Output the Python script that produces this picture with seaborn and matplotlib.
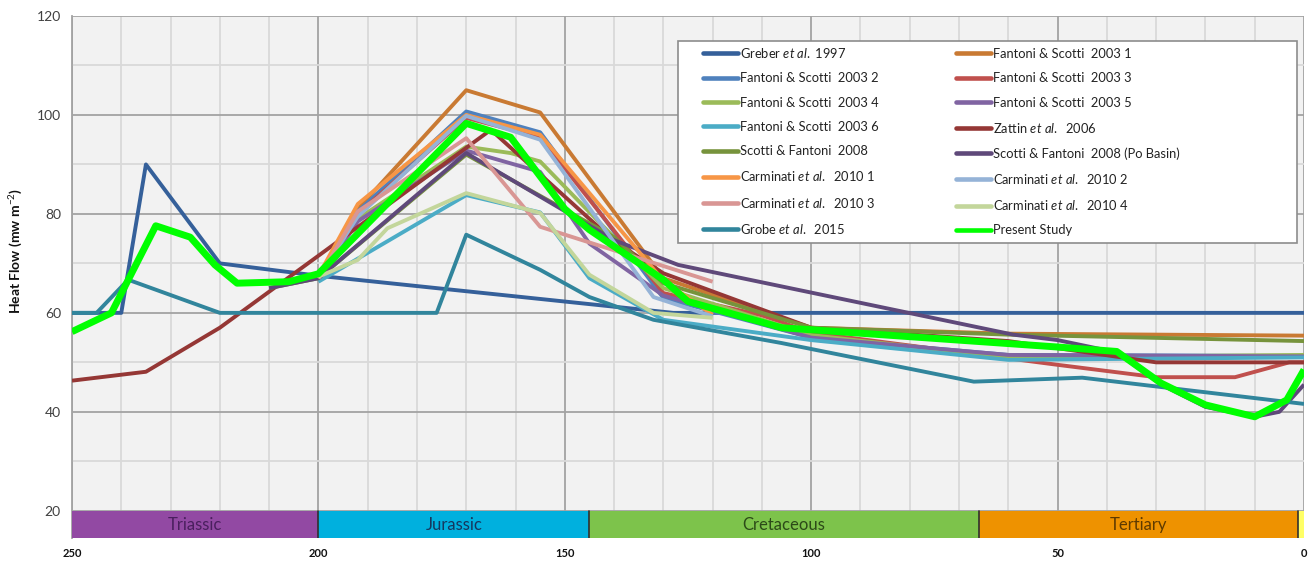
import matplotlib
matplotlib.use("Agg")
import matplotlib.pyplot as plt
from matplotlib.lines import Line2D
from matplotlib.patches import Rectangle
import seaborn as sns

sns.set_style("white")
plt.rcParams["font.family"] = ["Lato", "DejaVu Sans"]
plt.rcParams["mathtext.fontset"] = "custom"
plt.rcParams["mathtext.rm"] = "Lato"
plt.rcParams["mathtext.it"] = "Lato:italic"
plt.rcParams["mathtext.bf"] = "Lato:bold"

# ---------------- data ----------------
greber_t = [250, 240, 235, 220, 200, 128, 0]
greber_v = [60, 60, 90, 70, 67.5, 60, 60]

fs1_t = [200, 192, 170, 155, 130, 100, 60, 0]
fs1_v = [67, 81, 105, 100.5, 67, 57, 55.8, 55.4]

fs2_t = [200, 192, 170, 155, 130, 100, 60, 0]
fs2_v = [67, 80.5, 100.7, 96.5, 63, 55, 51.5, 51.3]

fs3_t = [200, 192, 170, 155, 130, 110, 100, 50, 30, 14, 3, 0]
fs3_v = [67, 80, 99.4, 95.5, 64, 59.5, 56, 49.5, 47, 47, 50, 50]

fs4_t = [200, 192, 170, 161, 155, 130, 100, 60, 0]
fs4_v = [67, 79, 93.6, 92.3, 90.6, 65, 55.5, 51, 51.5]

fs5_t = [200, 192, 170, 155, 145, 130, 100, 60, 0]
fs5_v = [66.5, 78.5, 92.8, 88.5, 74, 63.5, 55, 51.5, 51.2]

fs6_t = [200, 170, 155, 145, 130, 100, 60, 0]
fs6_v = [66.3, 83.8, 80.3, 67, 58.6, 54.5, 50.5, 51]

zattin_t = [250, 235, 220, 165, 140, 130, 100, 60, 30, 0]
zattin_v = [46.3, 48.1, 57, 97, 74.5, 68, 57, 54.3, 50, 50]

scotti_t = [210, 200, 170, 140, 130, 100, 60, 0]
scotti_v = [65, 67, 92, 75.3, 66, 57, 55.6, 54.3]

po_t = [210, 200, 170, 140, 127, 59, 50, 38, 29, 20, 10, 5, 0]
po_v = [65, 67, 92.3, 74.7, 69.7, 55.6, 54.5, 52, 45.5, 41, 39, 40, 45.5]

carm1_t = [200, 192, 170, 155, 130, 120]
carm1_v = [67.5, 82, 100, 96, 66.5, 59.6]

carm2_t = [200, 192, 170, 155, 132, 120]
carm2_v = [67, 79.5, 99.8, 95, 63.2, 59.3]

carm3_t = [200, 192, 170, 155, 120]
carm3_v = [67, 80.5, 95.3, 77.4, 66.3]

carm4_t = [200, 192, 186, 170, 155, 145, 132, 120]
carm4_v = [67.3, 70.7, 77.1, 84.2, 80.2, 67.7, 60, 59]

grobe_t = [250, 245, 238.6, 220, 176, 170, 155, 145, 132, 106, 67, 45, 0]
grobe_v = [60, 60, 66.7, 60, 60, 75.8, 68.7, 63.2, 58.6, 53.9, 46.1, 46.9, 41.6]

present_t = [250, 242, 233, 226, 221, 216.5, 206, 200, 170, 161, 150, 145,
             137, 130, 125, 106, 50, 38, 29, 20, 10, 3.5, 0]
present_v = [56.2, 60, 77.6, 75.3, 69.7, 66, 66.3, 67.9, 98.3, 95.5, 81, 76.8,
             71.4, 66.7, 62.3, 57, 53.1, 52.2, 45.8, 41.4, 39, 42.4, 48.5]

series_names = [
    r"Greber $\mathit{et\ al.}$ 1997",
    "Fantoni & Scotti  2003 1",
    "Fantoni & Scotti  2003 2",
    "Fantoni & Scotti  2003 3",
    "Fantoni & Scotti  2003 4",
    "Fantoni & Scotti  2003 5",
    "Fantoni & Scotti  2003 6",
    r"Zattin $\mathit{et\ al.}$  2006",
    "Scotti & Fantoni  2008",
    "Scotti & Fantoni  2008 (Po Basin)",
    r"Carminati $\mathit{et\ al.}$  2010 1",
    r"Carminati $\mathit{et\ al.}$  2010 2",
    r"Carminati $\mathit{et\ al.}$  2010 3",
    r"Carminati $\mathit{et\ al.}$  2010 4",
    r"Grobe $\mathit{et\ al.}$  2015",
    "Present Study",
]
series_t = [greber_t, fs1_t, fs2_t, fs3_t, fs4_t, fs5_t, fs6_t, zattin_t,
            scotti_t, po_t, carm1_t, carm2_t, carm3_t, carm4_t, grobe_t, present_t]
series_v = [greber_v, fs1_v, fs2_v, fs3_v, fs4_v, fs5_v, fs6_v, zattin_v,
            scotti_v, po_v, carm1_v, carm2_v, carm3_v, carm4_v, grobe_v, present_v]
series_colors = ["#35609A", "#C97A33", "#4F81BD", "#C0504D", "#9BBB59",
                 "#8064A2", "#4BACC6", "#953735", "#77933C", "#5F497A",
                 "#F79646", "#95B3D7", "#D99694", "#C3D69B", "#31859C", "#00FF00"]

period_names = ["Triassic", "Jurassic", "Cretaceous", "Tertiary", ""]
period_start = [250, 200, 145, 66, 1.3]
period_end = [200, 145, 66, 1.3, 0]
period_colors = ["#9249A3", "#00B0DE", "#7DC34B", "#EE9200", "#FFFF66"]
period_text_colors = ["#4A1F5E", "#16375E", "#2C4A18", "#5E3A00", "#000000"]

# ---------------- figure ----------------
W, H = 1312, 565
fig = plt.figure(figsize=(W / 100, H / 100), dpi=100)
ax = fig.add_axes([72 / W, 1 - 538 / H, 1232 / W, 522 / H])
ax.set_facecolor("#F2F2F2")
ax.set_xlim(250, 0)
ax.set_ylim(14.5, 120)

ax.set_xticks(range(0, 251, 50))
ax.set_xticks(range(0, 251, 10), minor=True)
ax.set_yticks(range(20, 121, 20))
ax.set_yticks(range(30, 120, 20), minor=True)
ax.grid(which="major", color="#A3A3A3", lw=1.3)
ax.grid(which="minor", color="#D9D9D9", lw=1.3)
ax.set_axisbelow(True)

for s in ["top", "right", "bottom"]:
    ax.spines[s].set_visible(False)
ax.spines["left"].set_color("#A3A3A3")
ax.spines["left"].set_linewidth(1.3)

ax.tick_params(axis="y", which="major", length=5, color="#A3A3A3",
               labelsize=10, labelcolor="#404040", pad=3)
ax.tick_params(axis="x", which="major", length=5, color="#A3A3A3",
               labelsize=8, labelcolor="#111111", pad=2)
ax.tick_params(which="minor", length=0)
for lab in ax.get_xticklabels():
    lab.set_fontweight("bold")

# period bar
for name, s, e, c, tc in zip(period_names, period_start, period_end,
                             period_colors, period_text_colors):
    ax.broken_barh([(e, s - e)], (14.5, 5.5), facecolors=c,
                   edgecolor="none", zorder=3)
    if name:
        ax.text((s + e) / 2, 17.2, name, ha="center", va="center",
                fontsize=12, color=tc, zorder=4)
for b in period_start[1:]:
    ax.plot([b, b], [14.5, 20], color="#303030", lw=1.2, zorder=4)

# lines
handles = []
for name, t, v, c in zip(series_names, series_t, series_v, series_colors):
    lw = 5.0 if name == "Present Study" else 2.8
    sns.lineplot(x=t, y=v, ax=ax, color=c, lw=lw, estimator=None, sort=False,
                 solid_joinstyle="round", solid_capstyle="butt", zorder=5)
    handles.append(Line2D([], [], color=c, lw=3.3, solid_capstyle="round"))

ax.set_ylabel(r"Heat Flow (mw m$^{-2}$)", fontsize=10, fontweight="bold",
              color="#111111")
ax.yaxis.set_label_coords(-0.038, 0.55)
ax.set_xlabel("")

# legend box
ax.add_patch(Rectangle((606 / 1232, 1 - 227 / 522), 619 / 1232, 202 / 522,
                       transform=ax.transAxes, facecolor="white",
                       edgecolor="#8C8C8C", lw=1.2, zorder=10))
order = [0, 2, 4, 6, 8, 10, 12, 14, 1, 3, 5, 7, 9, 11, 13, 15]
leg = ax.legend([handles[i] for i in order], [series_names[i] for i in order],
                ncol=2, loc="upper left",
                bbox_to_anchor=((703 - 72) / 1232, 1 - (46 - 16) / 522),
                frameon=False, fontsize=9.3,
                handlelength=2.7, handletextpad=0.2, labelspacing=0.95,
                columnspacing=5.95, borderpad=0, borderaxespad=0)
leg.set_zorder(11)
for txt in leg.get_texts():
    txt.set_color("#222222")

fig.savefig("out.png", dpi=100, facecolor="white")
